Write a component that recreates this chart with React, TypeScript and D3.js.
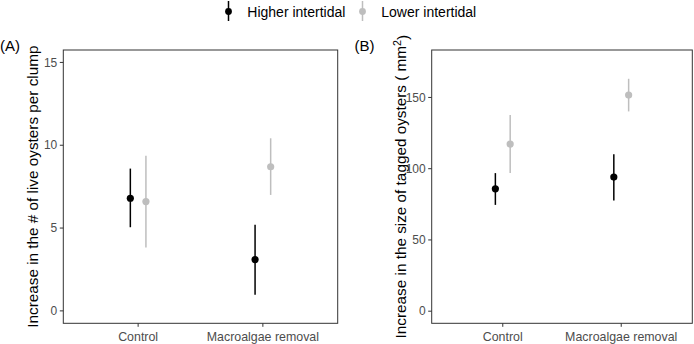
import React from 'react'
import { scalePoint, scaleLinear } from 'd3'

// categories and groups
const categories = ['Control', 'Macroalgae removal']
const groups = ['Higher intertidal', 'Lower intertidal']
const groupColors = ['#000000', '#BEBEBE']

// panel A: increase in # of live oysters per clump
const aMeanHigher = [6.8, 3.1]
const aMeanLower = [6.6, 8.7]
const aLowHigher = [5.05, 0.98]
const aLowLower = [3.82, 7.0]
const aHighHigher = [8.59, 5.2]
const aHighLower = [9.37, 10.42]
const aTicks = [0, 5, 10, 15]

// panel B: increase in size of tagged oysters (mm2)
const bMeanHigher = [85.9, 94.1]
const bMeanLower = [117.3, 151.7]
const bLowHigher = [74.6, 77.7]
const bLowLower = [96.9, 140.2]
const bHighHigher = [96.9, 110.2]
const bHighLower = [137.6, 163.1]
const bTicks = [0, 50, 100, 150]

const W = 694
const H = 344
const FONT = 'Liberation Sans, Arial, Helvetica, sans-serif'

type Series = { mean: number[]; low: number[]; high: number[] }

const Panel = ({ left, right, top, bottom, domain, ticks, series, tag, tagX, title }: {
  left: number; right: number; top: number; bottom: number
  domain: [number, number]; ticks: number[]; series: Series[]; tag: string; tagX: number; title: React.ReactNode
}) => {
  const x = scalePoint<string>().domain(categories).range([left, right]).padding(0.6)
  const y = scaleLinear().domain(domain).range([bottom, top])
  const dodge = x.step() * 0.0625
  const midY = (top + bottom) / 2

  return (
    <g>
      <rect x={left} y={top} width={right - left} height={bottom - top} fill="none" stroke="#333333" strokeWidth={1} />
      {ticks.map(t => (
        <g key={t}>
          <line x1={left - 3.5} x2={left} y1={y(t)} y2={y(t)} stroke="#333333" strokeWidth={1} />
          <text x={left - 6} y={y(t)} dy="0.35em" textAnchor="end" fontSize={12} fill="#4D4D4D">{t}</text>
        </g>
      ))}
      {categories.map(c => (
        <g key={c}>
          <line x1={x(c)} x2={x(c)} y1={bottom} y2={bottom + 3.5} stroke="#333333" strokeWidth={1} />
          <text x={x(c)} y={bottom + 17.5} textAnchor="middle" fontSize={12.4} fill="#4D4D4D">{c}</text>
        </g>
      ))}
      {series.map((s, gi) => categories.map((c, ci) => {
        const cx = (x(c) as number) + (gi === 0 ? -dodge : dodge)
        return (
          <g key={gi + '-' + ci}>
            <line x1={cx} x2={cx} y1={y(s.low[ci])} y2={y(s.high[ci])} stroke={groupColors[gi]} strokeWidth={1.5} />
            <circle cx={cx} cy={y(s.mean[ci])} r={3.6} fill={groupColors[gi]} />
          </g>
        )
      }))}
      <text x={left - 25.5} y={midY} transform={`rotate(-90 ${left - 25.5} ${midY})`} textAnchor="middle" fontSize={15.3} fill="#000">{title}</text>
      <text x={tagX} y={50.5} fontSize={15} fill="#000">{tag}</text>
    </g>
  )
}

const App = () => {
  const seriesA: Series[] = [
    { mean: aMeanHigher, low: aLowHigher, high: aHighHigher },
    { mean: aMeanLower, low: aLowLower, high: aHighLower },
  ]
  const seriesB: Series[] = [
    { mean: bMeanHigher, low: bLowHigher, high: bHighHigher },
    { mean: bMeanLower, low: bLowLower, high: bHighLower },
  ]
  const legendX = [228.5, 362.5]

  return (
    <svg width={W} height={H} style={{ position: 'absolute', left: 0, top: 0, fontFamily: FONT }}>
      <rect width={W} height={H} fill="#fff" />
      {groups.map((g, i) => (
        <g key={g}>
          <line x1={legendX[i]} x2={legendX[i]} y1={1} y2={21} stroke={groupColors[i]} strokeWidth={1.5} />
          <circle cx={legendX[i]} cy={11.5} r={3.4} fill={groupColors[i]} />
          <text x={legendX[i] + 18.8} y={16.5} fontSize={14} fill="#000">{g}</text>
        </g>
      ))}
      <Panel left={63.3} right={337.7} top={50} bottom={323.3} domain={[-0.75, 15.75]} ticks={aTicks}
        series={seriesA} tag="(A)" tagX={0} title="Increase in the # of live oysters per clump" />
      <Panel left={431.7} right={692.3} top={50} bottom={323.3} domain={[-8.5, 183.3]} ticks={bTicks}
        series={seriesB} tag="(B)" tagX={354.5}
        title={<>Increase in the size of tagged oysters ( mm<tspan dy="-0.45em" fontSize="0.7em">2</tspan><tspan dy="0.45em">)</tspan></>} />
    </svg>
  )
}

export default App
